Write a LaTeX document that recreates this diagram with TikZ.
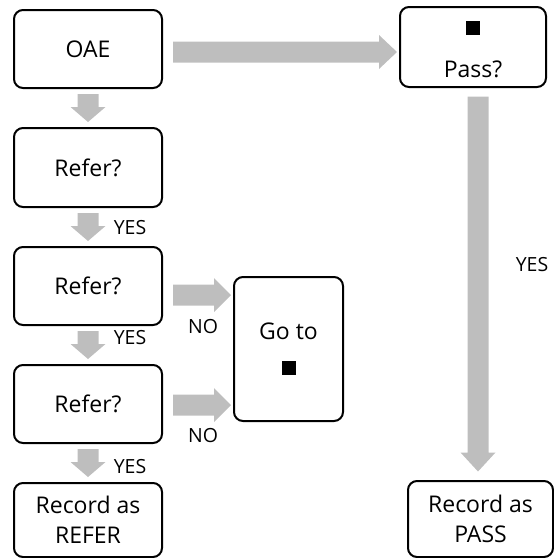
\documentclass[tikz,border=0pt]{standalone}
\usepackage{fontspec}
\setmainfont{Open Sans}
\usetikzlibrary{calc}
\definecolor{arrowgray}{HTML}{BEBEBE}
\begin{document}
\begin{tikzpicture}[x=1pt,y=-1pt,
  box/.style={draw=black, line width=2pt, rounded corners=9pt, align=center,
    inner sep=0pt, font=\fontsize{23}{30}\selectfont},
  lbl/.style={font=\fontsize{19.5}{22}\selectfont, inner sep=0pt},
  sq/.style={fill=black, inner sep=0pt, minimum size=14pt},
  fatV/.style n args={3}{fill=arrowgray, to path={let \p1=(\tikztostart.south), \p2=(\tikztotarget.north) in
    (\x1+#1-10.5pt,\y1-#2) -- (\x1+#1+10.5pt,\y1-#2) -- (\x1+#1+10.5pt,\y2+#2+#3)
    -- (\x1+#1+17.5pt,\y2+#2+#3) -- (\x1+#1,\y2+#2) -- (\x1+#1-17.5pt,\y2+#2+#3)
    -- (\x1+#1-10.5pt,\y2+#2+#3) -- cycle}},
  fatH/.style 2 args={fill=arrowgray, to path={let \p1=(\tikztostart.east), \p2=(\tikztotarget.west) in
    (\x1+10pt,\y1+#1+10.5pt) -- (\x2-2pt-#2,\y1+#1+10.5pt) -- (\x2-2pt-#2,\y1+#1+17pt)
    -- (\x2-2pt,\y1+#1) -- (\x2-2pt-#2,\y1+#1-17pt) -- (\x2-2pt-#2,\y1+#1-10.5pt)
    -- (\x1+10pt,\y1+#1-10.5pt) -- cycle}}
]
\useasboundingbox (0,0) rectangle (554,558);

% boxes
\node[box, minimum width=148pt, minimum height=78pt] (oae) at (88,49) {OAE};
\node[box, minimum width=148pt, minimum height=79pt] (r1) at (88,167.5) {Refer?};
\node[box, minimum width=148pt, minimum height=78pt] (r2) at (88,286) {Refer?};
\node[box, minimum width=148pt, minimum height=78pt] (r3) at (88,404) {Refer?};
\node[box, minimum width=148pt, minimum height=74pt] (rec) at (88,520) {Record as\\REFER};
\node[box, minimum width=146pt, minimum height=80pt] (pass) at (473,47) {};
\node[sq] (sqp) at (473,28) {};
\node[font=\fontsize{23}{30}\selectfont, inner sep=0pt] (passt) at (473,69) {Pass?};
\node[box, minimum width=145pt, minimum height=76pt] (recp) at (480.5,519) {Record as\\PASS};
\node[box, minimum width=109pt, minimum height=144pt] (goto) at (288.5,349) {};
\node[font=\fontsize{23}{30}\selectfont, inner sep=0pt] (gotot) at (288.5,331) {Go to};
\node[sq] (sqg) at (289,368) {};

% arrows
\path[fatH={-3pt}{18pt}] (oae) to (pass);
\path[fatV={0pt}{5pt}{15pt}] (oae) to (r1);
\path[fatV={0pt}{5pt}{15pt}] (r1) to (r2);
\path[fatV={0pt}{5pt}{15pt}] (r2) to (r3);
\path[fatV={0pt}{5pt}{15pt}] (r3) to (rec);
\path[fatH={-9pt}{17pt}] (r2) to (goto);
\path[fatH={-1pt}{17pt}] (r3) to (goto);
\path[fatV={5pt}{8.5pt}{19pt}] (pass) to (recp);

% labels
\node[lbl] (y1) at (130,228) {YES};
\node[lbl] (y2) at (130,338) {YES};
\node[lbl] (y3) at (130,467) {YES};
\node[lbl] (yp) at (532,265) {YES};
\node[lbl] (n1) at (203,327) {NO};
\node[lbl] (n2) at (203,436) {NO};
\end{tikzpicture}
\end{document}
